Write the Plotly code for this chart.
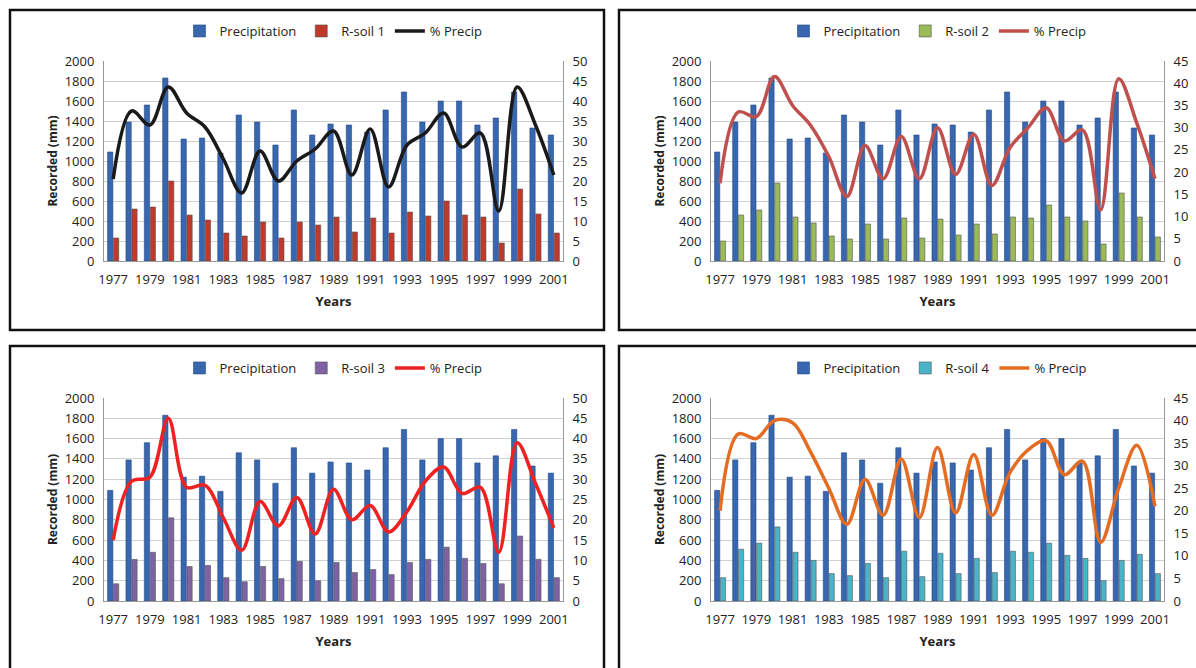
import plotly.graph_objects as go

W, H = 1196, 668

years = list(range(1977, 2002))
precip = [1090, 1390, 1560, 1830, 1220, 1230, 1080, 1460, 1390, 1160, 1510, 1260, 1370,
          1360, 1290, 1510, 1690, 1390, 1600, 1600, 1360, 1430, 1690, 1330, 1260]

rsoil1 = [230, 520, 540, 800, 460, 410, 280, 250, 390, 230, 390, 360, 440,
          290, 430, 280, 490, 450, 600, 460, 440, 180, 720, 470, 280]
pct1 = [20.5, 37.5, 34, 43.5, 37, 33.5, 25.5, 17, 27.5, 20, 25, 28, 32.5,
        21.5, 33, 18.5, 29, 32, 37, 28.5, 32, 12.5, 43.5, 34, 21.5]

rsoil2 = [200, 460, 510, 780, 440, 380, 250, 220, 370, 220, 430, 230, 420,
          260, 370, 270, 440, 430, 560, 440, 400, 170, 680, 440, 240]
pct2 = [17.5, 33.5, 32.5, 41.5, 35, 30.5, 23.5, 14.5, 26, 18.5, 28, 18.5, 30,
        19.5, 28.5, 17, 25.5, 30, 34.5, 27, 29.5, 11.5, 41, 31, 18.5]

rsoil3 = [170, 410, 480, 820, 340, 350, 230, 190, 340, 220, 390, 200, 380,
          280, 310, 260, 380, 410, 530, 420, 370, 170, 640, 410, 230]
pct3 = [15, 29.5, 30.5, 45, 28, 28.5, 20.5, 12.5, 24.5, 18.5, 25.5, 16.5, 27.5,
        20, 23.5, 17, 22, 29.5, 33, 26.5, 28, 12, 39, 29, 18]

rsoil4 = [230, 510, 570, 730, 480, 400, 270, 250, 370, 230, 490, 240, 470,
          270, 420, 280, 490, 480, 570, 450, 420, 200, 400, 460, 270]
pct4 = [20, 37, 36, 40, 39.5, 33, 25, 17, 27, 19, 31.5, 18.5, 34,
        19.5, 32.5, 19, 28.5, 33.5, 35.5, 28, 31, 13, 25, 34.5, 21]

panels = [
    ("R-soil 1", rsoil1, pct1, "#c0392b", "#1a1a1a", 50),
    ("R-soil 2", rsoil2, pct2, "#9bbb59", "#c0504d", 45),
    ("R-soil 3", rsoil3, pct3, "#7f62a3", "#ee2222", 50),
    ("R-soil 4", rsoil4, pct4, "#4bb3c8", "#e46c23", 45),
]

def px_x(p):
    return p / W

def px_y(p):
    return 1 - p / H

xdom = [[px_x(104), px_x(563)], [px_x(711), px_x(1164)]]
ydom = [[px_y(261), px_y(61)], [px_y(601), px_y(398)]]
boxes = [(10, 10, 604, 330), (619, 10, 1205, 330), (10, 346, 604, 680), (619, 346, 1205, 680)]

fig = go.Figure()
lay = dict(width=W, height=H, margin=dict(l=0, r=0, t=0, b=0, pad=0),
           plot_bgcolor="white", paper_bgcolor="white",
           font=dict(family="Open Sans", size=13, color="#222"),
           barmode="group", bargap=0.36, bargroupgap=0.1, showlegend=True, shapes=[])

for i, (name, rs, pct, bc, lc, ymax) in enumerate(panels):
    n = i + 1
    xa = "x" if n == 1 else f"x{n}"
    ya = f"y{2*n-1}" if n > 1 else "y"
    ya2 = f"y{2*n}"
    leg = "legend" if n == 1 else f"legend{n}"
    col, row = i % 2, i // 2
    fig.add_trace(go.Bar(x=years, y=precip, name="Precipitation", marker_color="#3867b0",
                         marker_line=dict(color="#244a85", width=0.6),
                         xaxis=xa, yaxis=ya, legend=leg))
    fig.add_trace(go.Bar(x=years, y=rs, name=name, marker_color=bc,
                         marker_line=dict(color="#555", width=0.6),
                         xaxis=xa, yaxis=ya, legend=leg))
    fig.add_trace(go.Scatter(x=years, y=pct, name="% Precip", mode="lines",
                             line=dict(color=lc, width=3.5, shape="spline", smoothing=1.0),
                             xaxis=xa, yaxis=ya2, legend=leg))
    xk = "xaxis" if n == 1 else f"xaxis{n}"
    yk = "yaxis" if n == 1 else f"yaxis{2*n-1}"
    yk2 = f"yaxis{2*n}"
    lay[xk] = dict(domain=xdom[col], anchor=ya, range=[1976.5, 2001.5], automargin=False,
                   tickvals=list(range(1977, 2002, 2)), showgrid=False, ticklabelstandoff=6,
                   showline=True, linecolor="#999", ticks="", tickfont=dict(size=13),
                   title=dict(text="<b>Years</b>", font=dict(size=13), standoff=10))
    lay[yk] = dict(domain=ydom[row], anchor=xa, range=[0, 2000], dtick=200, automargin=False,
                   gridcolor="#d0d0d0", showline=True, linecolor="#999", ticks="",
                   tickfont=dict(size=13), ticklabelstandoff=6,
                   title=dict(text="<b>Recorded (mm)</b>", font=dict(size=12), standoff=4))
    lay[yk2] = dict(overlaying=ya, side="right", anchor=xa, range=[0, ymax], dtick=5,
                    automargin=False, showgrid=False, showline=True, linecolor="#999",
                    ticks="", tickfont=dict(size=13), ticklabelstandoff=6)
    lay[leg] = dict(orientation="h", x=(xdom[col][0] + xdom[col][1]) / 2, xanchor="center",
                    y=px_y(31 if row == 0 else 368), yanchor="middle",
                    font=dict(size=13), bgcolor="rgba(0,0,0,0)")
    x0, y0, x1, y1 = boxes[i]
    lay["shapes"].append(dict(type="rect", xref="paper", yref="paper",
                              x0=px_x(x0), x1=px_x(x1), y0=px_y(y1), y1=px_y(y0),
                              line=dict(color="#111", width=2.5)))

fig.update_layout(**lay)
fig.write_html("out.html", config={"displayModeBar": False},
               post_script="document.body.style.margin='0';document.body.style.overflow='hidden';")
